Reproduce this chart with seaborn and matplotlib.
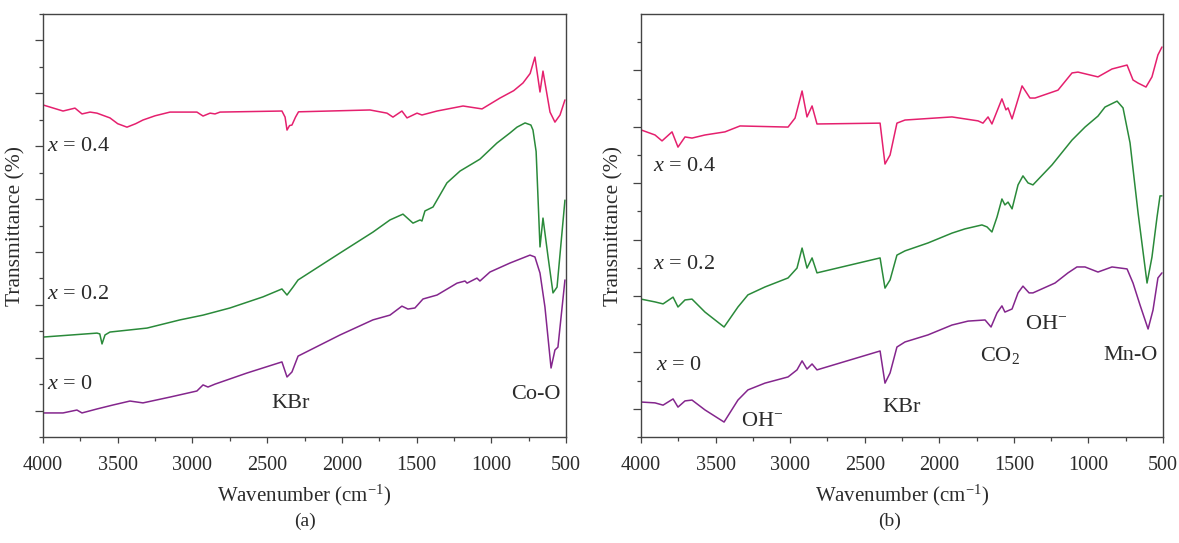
import numpy as np
import pandas as pd
import seaborn as sns
import matplotlib
matplotlib.use("Agg")
import matplotlib.pyplot as plt
from matplotlib.ticker import MultipleLocator, NullFormatter, FixedLocator

# ---------------- data ----------------
# Panel (a): Co-doped samples, transmittance in arbitrary units (0-16)
a_x04_wn = [4000, 3866, 3786, 3739, 3685, 3639, 3552, 3500, 3438, 3380, 3331, 3250, 3150,
            2970, 2929, 2882, 2849, 2815, 2401, 2380, 2367, 2350, 2334, 2310, 2290, 1812,
            1698, 1658, 1598, 1564, 1497, 1464, 1363, 1189, 1062, 942, 850, 788, 740, 708,
            674, 654, 607, 574, 540, 507]
a_x04_T = [12.56, 12.33, 12.44, 12.22, 12.29, 12.25, 12.07, 11.85, 11.72, 11.85, 11.99, 12.15, 12.29,
           12.29, 12.14, 12.25, 12.22, 12.29, 12.33, 12.10, 11.61, 11.78, 11.80, 12.10, 12.30, 12.37,
           12.25, 12.10, 12.33, 12.07, 12.25, 12.18, 12.33, 12.52, 12.41, 12.82, 13.10, 13.39, 13.75, 14.37,
           13.05, 13.84, 12.29, 11.91, 12.18, 12.75]

a_x02_wn = [4000, 3639, 3620, 3605, 3585, 3552, 3304, 3083, 2929, 2749, 2528, 2401,
            2367, 2327, 2293, 2012, 1792, 1678, 1591, 1524, 1477, 1464, 1444, 1390,
            1297, 1209, 1129, 1076, 962, 875, 828, 774, 735, 721, 700, 694, 674, 654,
            620, 587, 560, 527, 507]
a_x02_T = [3.78, 3.93, 3.90, 3.52, 3.86, 3.97, 4.12, 4.43, 4.61, 4.88, 5.30, 5.60,
           5.37, 5.67, 5.94, 6.96, 7.75, 8.21, 8.43, 8.09, 8.21, 8.17, 8.55, 8.70,
           9.61, 10.06, 10.33, 10.51, 11.12, 11.50, 11.72, 11.88, 11.80, 11.61, 10.80, 9.98, 7.19, 8.28,
           6.81, 5.45, 5.67, 7.72, 8.96]

a_x0_wn = [4000, 3866, 3773, 3739, 3639, 3532, 3418, 3331, 3150, 2970, 2929, 2896,
           2849, 2635, 2401, 2367, 2334, 2293, 2012, 1792, 1678, 1598, 1558, 1511,
           1457, 1363, 1229, 1176, 1162, 1096, 1076, 1009, 875, 741, 708, 674, 641,
           600, 574, 554, 507]
a_x0_T = [0.91, 0.91, 1.02, 0.91, 1.06, 1.21, 1.36, 1.29, 1.51, 1.74, 1.97, 1.89,
          2.00, 2.42, 2.84, 2.27, 2.46, 3.06, 3.86, 4.43, 4.61, 4.95, 4.84, 4.88,
          5.22, 5.37, 5.82, 5.90, 5.82, 6.01, 5.90, 6.24, 6.58, 6.88, 6.81, 6.20, 4.92,
          2.61, 3.29, 3.40, 5.94]

# Panel (b): Mn-doped samples, transmittance in arbitrary units (0-15)
b_x04_wn = [4000, 3906, 3859, 3792, 3752, 3705, 3658, 3571, 3437, 3336, 3014, 2967,
            2920, 2887, 2853, 2820, 2397, 2364, 2330, 2284, 2230, 1915, 1740, 1707,
            1673, 1647, 1580, 1553, 1539, 1512, 1445, 1392, 1358, 1204, 1110, 1070,
            936, 842, 741, 701, 667, 614, 574, 534, 507]
b_x04_T = [10.89, 10.71, 10.50, 10.82, 10.28, 10.64, 10.60, 10.71, 10.82, 11.03, 10.99, 11.31,
           12.27, 11.35, 11.74, 11.10, 11.13, 9.68, 10.00, 11.13, 11.24, 11.35, 11.21, 11.13,
           11.35, 11.10, 11.99, 11.60, 11.67, 11.28, 12.45, 12.02, 12.02, 12.30, 12.91, 12.94,
           12.77, 13.05, 13.19, 12.66, 12.55, 12.41, 12.77, 13.55, 13.83]

b_x02_wn = [4000, 3906, 3852, 3785, 3752, 3705, 3658, 3571, 3443, 3350, 3283, 3169,
            3014, 2954, 2920, 2887, 2853, 2820, 2397, 2364, 2330, 2284, 2230, 2076,
            1915, 1828, 1714, 1680, 1647, 1613, 1580, 1560, 1539, 1512, 1472, 1439,
            1405, 1372, 1244, 1110, 1023, 936, 889, 808, 768, 721, 667, 607, 574,
            540, 520, 507]
b_x02_T = [4.89, 4.79, 4.72, 4.96, 4.61, 4.86, 4.89, 4.43, 3.90, 4.61, 5.04, 5.32,
           5.64, 5.99, 6.70, 5.99, 6.35, 5.82, 6.35, 5.28, 5.57, 6.45, 6.60, 6.88,
           7.23, 7.38, 7.52, 7.45, 7.27, 7.80, 8.44, 8.23, 8.33, 8.09, 8.94, 9.26,
           9.01, 8.94, 9.65, 10.53, 10.99, 11.38, 11.70, 11.91, 11.67, 10.43, 7.94, 5.46, 6.38,
           7.80, 8.55, 8.55]

b_x0_wn = [4000, 3906, 3852, 3785, 3752, 3705, 3658, 3571, 3443, 3350, 3283, 3169,
           3014, 2954, 2920, 2887, 2853, 2820, 2397, 2364, 2330, 2284, 2230, 2076,
           1915, 1807, 1693, 1653, 1613, 1580, 1560, 1512, 1472, 1439, 1398, 1372,
           1224, 1137, 1077, 1023, 936, 842, 741, 701, 654, 600, 567, 534, 507]
b_x0_T = [1.24, 1.21, 1.13, 1.35, 1.06, 1.28, 1.31, 0.96, 0.53, 1.31, 1.67, 1.91,
          2.13, 2.38, 2.70, 2.41, 2.59, 2.38, 3.05, 1.91, 2.27, 3.19, 3.37, 3.62,
          3.97, 4.11, 4.15, 3.90, 4.40, 4.65, 4.43, 4.54, 5.11, 5.35, 5.11, 5.11,
          5.46, 5.82, 6.03, 6.03, 5.85, 6.03, 5.96, 5.46, 4.68, 3.83, 4.50, 5.64, 5.82]

series_labels = ["x = 0.4", "x = 0.2", "x = 0"]
series_colors = ["#E5206E", "#2A8A3A", "#84268D"]

# ---------------- styling ----------------
sns.set_theme(style="ticks")
plt.rcParams["font.family"] = ["Liberation Serif", "DejaVu Serif"]
plt.rcParams["mathtext.fontset"] = "custom"
plt.rcParams["mathtext.rm"] = "Liberation Serif"
plt.rcParams["mathtext.it"] = "Liberation Serif:italic"
plt.rcParams["mathtext.default"] = "regular"

TXT = "#2b2b2b"
SPINE = "#444444"

fig = plt.figure(figsize=(11.79, 5.43), dpi=100)
ax_a = fig.add_axes([43 / 1179, 106 / 543, 523 / 1179, 423 / 543])
ax_b = fig.add_axes([641 / 1179, 106 / 543, 522 / 1179, 423 / 543])


def make_df(wns, Ts):
    frames = []
    for lab, w, t in zip(series_labels, wns, Ts):
        frames.append(pd.DataFrame({"wn": w, "T": t, "sample": lab}))
    return pd.concat(frames, ignore_index=True)


df_a = make_df([a_x04_wn, a_x02_wn, a_x0_wn], [a_x04_T, a_x02_T, a_x0_T])
df_b = make_df([b_x04_wn, b_x02_wn, b_x0_wn], [b_x04_T, b_x02_T, b_x0_T])

palette = dict(zip(series_labels, series_colors))

for ax, df, ymax in [(ax_a, df_a, 16), (ax_b, df_b, 15)]:
    sns.lineplot(data=df, x="wn", y="T", hue="sample", palette=palette,
                 estimator=None, sort=True, linewidth=1.1, legend=False, ax=ax)
    ax.set_xlim(4000, 500)
    ax.set_ylim(0, ymax)
    ax.xaxis.set_major_locator(MultipleLocator(500))
    ax.xaxis.set_minor_locator(MultipleLocator(250))
    ax.yaxis.set_major_locator(FixedLocator(np.arange(1, ymax, 2)))
    ax.yaxis.set_minor_locator(FixedLocator(np.arange(0, ymax + 1, 2)))
    ax.yaxis.set_major_formatter(NullFormatter())
    ax.tick_params(axis="y", which="major", length=5.5, width=0.9, color=SPINE, direction="out")
    ax.tick_params(axis="y", which="minor", length=3, width=0.9, color=SPINE, direction="out")
    ax.tick_params(axis="x", which="major", length=4, width=0.9, color=SPINE, direction="out",
                   labelsize=14.5, labelcolor=TXT, pad=10)
    ax.tick_params(axis="x", which="minor", length=3, width=0.9, color=SPINE, direction="out")
    for s in ax.spines.values():
        s.set_color(SPINE)
        s.set_linewidth(1.0)
    ax.set_xlabel("Wavenumber (cm$^{-1}$)", fontsize=15, color=TXT, labelpad=5)
    ax.set_ylabel("Transmittance (%)", fontsize=15.5, color=TXT)
    ax.yaxis.set_label_coords(-0.034, 0.5)

lab_kw = dict(fontsize=16, color=TXT, ha="left", va="center")
ann_kw = dict(fontsize=16, color=TXT, ha="center", va="center")
# Panel (a) annotations
ax_a.text(3970, 11.0, r"$\mathit{x}$ = 0.4", **lab_kw)
ax_a.text(3970, 5.4, r"$\mathit{x}$ = 0.2", **lab_kw)
ax_a.text(3970, 2.0, r"$\mathit{x}$ = 0", **lab_kw)
ax_a.text(2340, 1.25, "KBr", **ann_kw)
ax_a.text(700, 1.6, "Co-O", **ann_kw)

# Panel (b) annotations
ax_b.text(3920, 9.6, r"$\mathit{x}$ = 0.4", **lab_kw)
ax_b.text(3920, 6.1, r"$\mathit{x}$ = 0.2", **lab_kw)
ax_b.text(3900, 2.55, r"$\mathit{x}$ = 0", **lab_kw)
ax_b.text(3330, 0.55, "OH$^{-}$", **lab_kw)
ax_b.text(2250, 1.05, "KBr", **ann_kw)
ax_b.text(1590, 2.9, "CO$_2$", **ann_kw)
ax_b.text(1285, 4.0, "OH$^{-}$", **ann_kw)
ax_b.text(720, 2.9, "Mn-O", **ann_kw)

fig.text(305 / 1179, 1 - 521 / 543, "(a)", fontsize=14, color=TXT, ha="center", va="center")
fig.text(890 / 1179, 1 - 521 / 543, "(b)", fontsize=14, color=TXT, ha="center", va="center")

fig.savefig("out.png", dpi=100, facecolor="white")
